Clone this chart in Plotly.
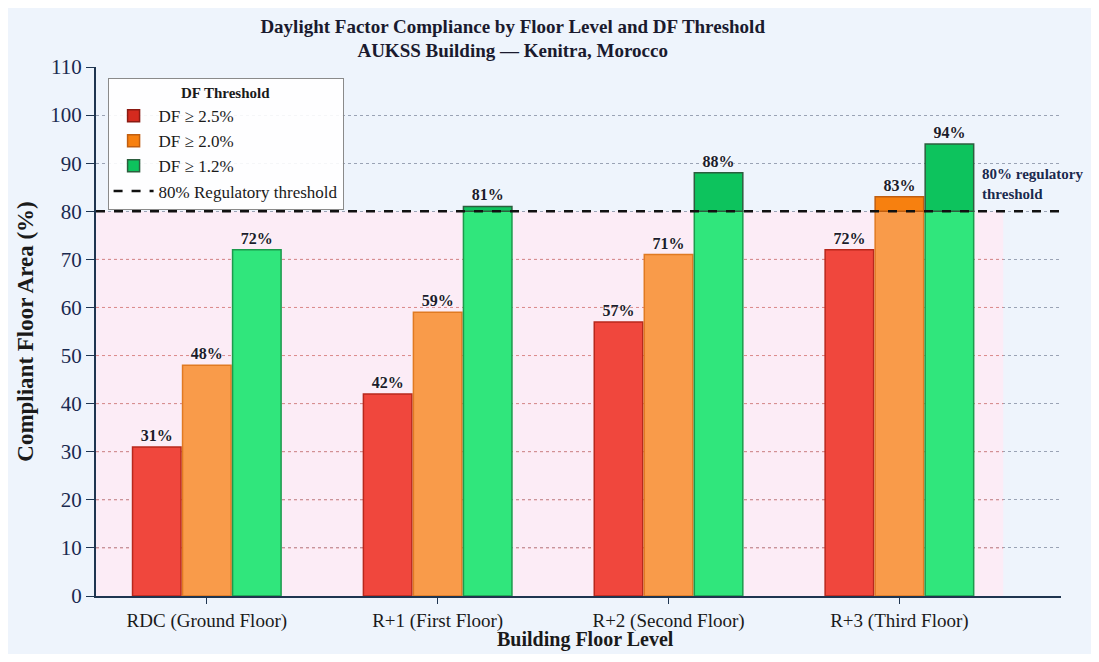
import plotly.graph_objects as go

floors = ["RDC (Ground Floor)", "R+1 (First Floor)", "R+2 (Second Floor)", "R+3 (Third Floor)"]
thresholds = ["DF \u2265 2.5%", "DF \u2265 2.0%", "DF \u2265 1.2%"]
df_25 = [31, 42, 57, 72]
df_20 = [48, 59, 71, 83]
df_12 = [72, 81, 88, 94]
limit = 80
y_ticks = list(range(0, 111, 10))

series = [df_25, df_20, df_12]
light = ["#f0473d", "#f99b4a", "#30e67c"]
light_edge = ["#b8281c", "#e07a22", "#1c9a4c"]
dark = ["#d42a1e", "#f7800f", "#0dc35d"]
dark_edge = ["#8a1a12", "#c05e10", "#2c5e3e"]

FONT = "Liberation Serif, Times New Roman, serif"
HALO = "0px 0px 3px #ffffff"
xpos = list(range(len(floors)))

fig = go.Figure()
for i, vals in enumerate(series):
    # part of the bar up to the regulatory threshold
    fig.add_trace(go.Bar(
        x=xpos, y=[min(v, limit) for v in vals],
        offsetgroup=str(i), showlegend=False,
        marker=dict(color=light[i], line=dict(color=light_edge[i], width=1.5)),
        text=[f"{v}%" if v <= limit else "" for v in vals],
        textposition="outside", cliponaxis=False, constraintext="none",
        textfont=dict(family=FONT, size=16, color="#1c1c2c", weight="bold", shadow=HALO),
        hoverinfo="skip",
    ))
    # part above the threshold, darker shade
    fig.add_trace(go.Bar(
        x=xpos, y=[v - limit if v > limit else None for v in vals], base=limit,
        offsetgroup=str(i), name=thresholds[i], legendrank=i + 1,
        marker=dict(color=dark[i], line=dict(color=dark_edge[i], width=1.5)),
        text=[f"{v}%" if v > limit else "" for v in vals],
        textposition="outside", cliponaxis=False, constraintext="none",
        textfont=dict(family=FONT, size=16, color="#1c1c2c", weight="bold", shadow=HALO),
        hoverinfo="skip",
    ))

# pink compliance-gap band
fig.add_shape(type="rect", xref="x", yref="y", x0=-0.48, x1=3.45, y0=0, y1=limit,
              fillcolor="#fcecf6", line_width=0, layer="below")
for t in y_ticks:
    if 0 < t < limit:
        fig.add_shape(type="line", xref="x", yref="y", x0=-0.48, x1=3.45, y0=t, y1=t,
                      line=dict(color="#e08c8c", width=1, dash="dot"), layer="between")

fig.add_shape(type="line", xref="paper", yref="y", x0=0, x1=1, y0=limit, y1=limit,
              line=dict(color="#111111", width=2.5, dash="dash"), layer="above",
              showlegend=True, name="80% Regulatory threshold", legendrank=10)

fig.add_annotation(x=3.35, y=limit + 1.5, xref="x", yref="y", xanchor="left", yanchor="bottom",
                   align="left", showarrow=False,
                   text="<b>80% regulatory<br>threshold</b>",
                   font=dict(family=FONT, size=15, color="#1a2a50", shadow=HALO))

# x axis title as an annotation so it can sit below the tick labels
fig.add_annotation(x=0.507, y=0, xref="paper", yref="paper", xanchor="center", yanchor="middle",
                   yshift=-43, showarrow=False, text="<b>Building Floor Level</b>",
                   font=dict(family=FONT, size=20, color="#1a1a1a"))

fig.update_layout(
    width=1083, height=646,
    margin=dict(l=88, r=30, t=59, b=58),
    paper_bgcolor="#eef4fc", plot_bgcolor="#eef4fc",
    font=dict(family=FONT, color="#1a1a1a"),
    barmode="group", bargap=0.35, bargroupgap=0.03,
    title=dict(
        text="<b>Daylight Factor Compliance by Floor Level and DF Threshold<br>AUKSS Building \u2014 Kenitra, Morocco</b>",
        x=0.466, xanchor="center", y=0.962, yanchor="middle",
        font=dict(family=FONT, size=19, color="#1a1a2e"),
    ),
    legend=dict(
        x=0.012, y=0.98, xanchor="left", yanchor="top",
        bgcolor="rgba(255,255,255,0.9)", bordercolor="#8a8a8a", borderwidth=1,
        font=dict(family=FONT, size=17, color="#1a1a1a"),
        title=dict(text="<b>DF Threshold</b>", side="top center",
                   font=dict(family=FONT, size=15, color="#1a1a1a")),
        tracegroupgap=0, itemwidth=40,
    ),
    xaxis=dict(
        range=[-0.48, 3.70], tickmode="array", tickvals=xpos, ticktext=floors,
        showgrid=False, zeroline=False, showline=True, linecolor="#1f3550", linewidth=2,
        ticks="outside", ticklen=6, tickcolor="#1f3550", automargin=False,
        tickfont=dict(family=FONT, size=19, color="#1a1a1a"),
    ),
    yaxis=dict(
        range=[0, 110], tickmode="array", tickvals=y_ticks,
        showgrid=True, gridcolor="#9aa3b5", griddash="dot", gridwidth=1,
        zeroline=False, showline=True, linecolor="#1f3550", linewidth=2,
        ticks="outside", ticklen=8, tickcolor="#1f3550", automargin=False,
        tickfont=dict(family=FONT, size=21, color="#1a2a50"),
        title=dict(text="<b>Compliant Floor Area (%)</b>", standoff=10,
                   font=dict(family=FONT, size=23, color="#1a1a1a")),
    ),
)

fig.write_html("out.html")
